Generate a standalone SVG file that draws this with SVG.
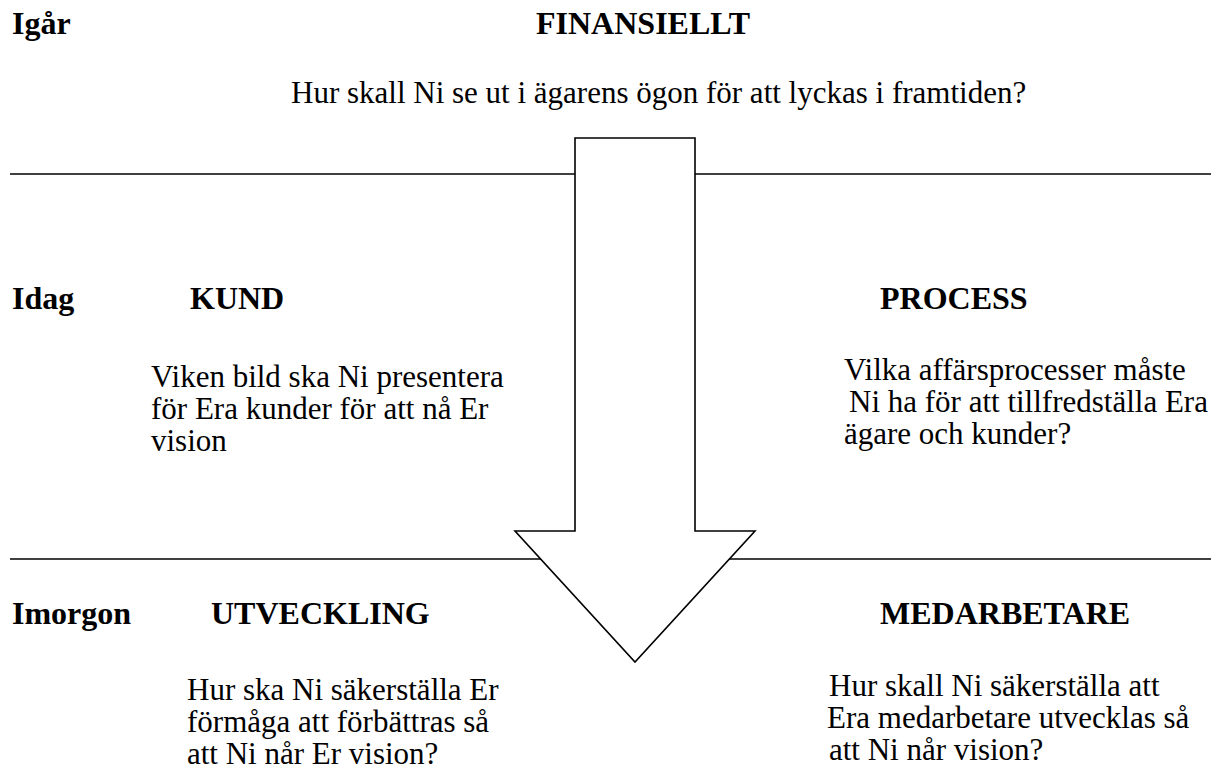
<svg xmlns="http://www.w3.org/2000/svg" width="1224" height="774" viewBox="0 0 1224 774">
  <style>
    text { font-family: "Liberation Serif", "Times New Roman", serif; font-size: 31px; fill: #000; }
    .h { font-weight: bold; font-size: 32px; }
    .rule { stroke: #000; stroke-width: 1.5; }
    .arrow { fill: #fff; stroke: #000; stroke-width: 1.6; stroke-linejoin: miter; }
  </style>
  <rect width="1224" height="774" fill="#fff"/>

  <!-- separators between the three time bands -->
  <g id="rules">
    <line class="rule" x1="10" y1="174" x2="1211" y2="174"/>
    <line class="rule" x1="10" y1="559" x2="1211" y2="559"/>
  </g>

  <!-- big downward arrow -->
  <g id="connectors">
    <polygon class="arrow" points="575,138 695,138 695,531 755,531 635,662 515,531 575,531"/>
  </g>

  <g id="igar">
    <text class="h" x="12" y="34">Igår</text>
  </g>
  <g id="finansiellt">
    <text class="h" x="536" y="34">FINANSIELLT</text>
    <text x="291" y="103">Hur skall Ni se ut i ägarens ögon för att lyckas i framtiden?</text>
  </g>

  <g id="idag">
    <text class="h" x="12" y="309">Idag</text>
  </g>
  <g id="kund">
    <text class="h" x="190" y="309">KUND</text>
    <text x="151" y="387">Viken bild ska Ni presentera</text>
    <text x="151" y="419">för Era kunder för att nå Er</text>
    <text x="151" y="451">vision</text>
  </g>
  <g id="process">
    <text class="h" x="880" y="309">PROCESS</text>
    <text x="844" y="380">Vilka affärsprocesser måste</text>
    <text x="849" y="412">Ni ha för att tillfredställa Era</text>
    <text x="844" y="444">ägare och kunder?</text>
  </g>

  <g id="imorgon">
    <text class="h" x="12" y="624">Imorgon</text>
  </g>
  <g id="utveckling">
    <text class="h" x="211" y="624">UTVECKLING</text>
    <text x="187" y="700">Hur ska Ni säkerställa Er</text>
    <text x="187" y="732">förmåga att förbättras så</text>
    <text x="187" y="764">att Ni når Er vision?</text>
  </g>
  <g id="medarbetare">
    <text class="h" x="880" y="624">MEDARBETARE</text>
    <text x="829" y="696">Hur skall Ni säkerställa att</text>
    <text x="827" y="728">Era medarbetare utvecklas så</text>
    <text x="829" y="760">att Ni når vision?</text>
  </g>
</svg>
